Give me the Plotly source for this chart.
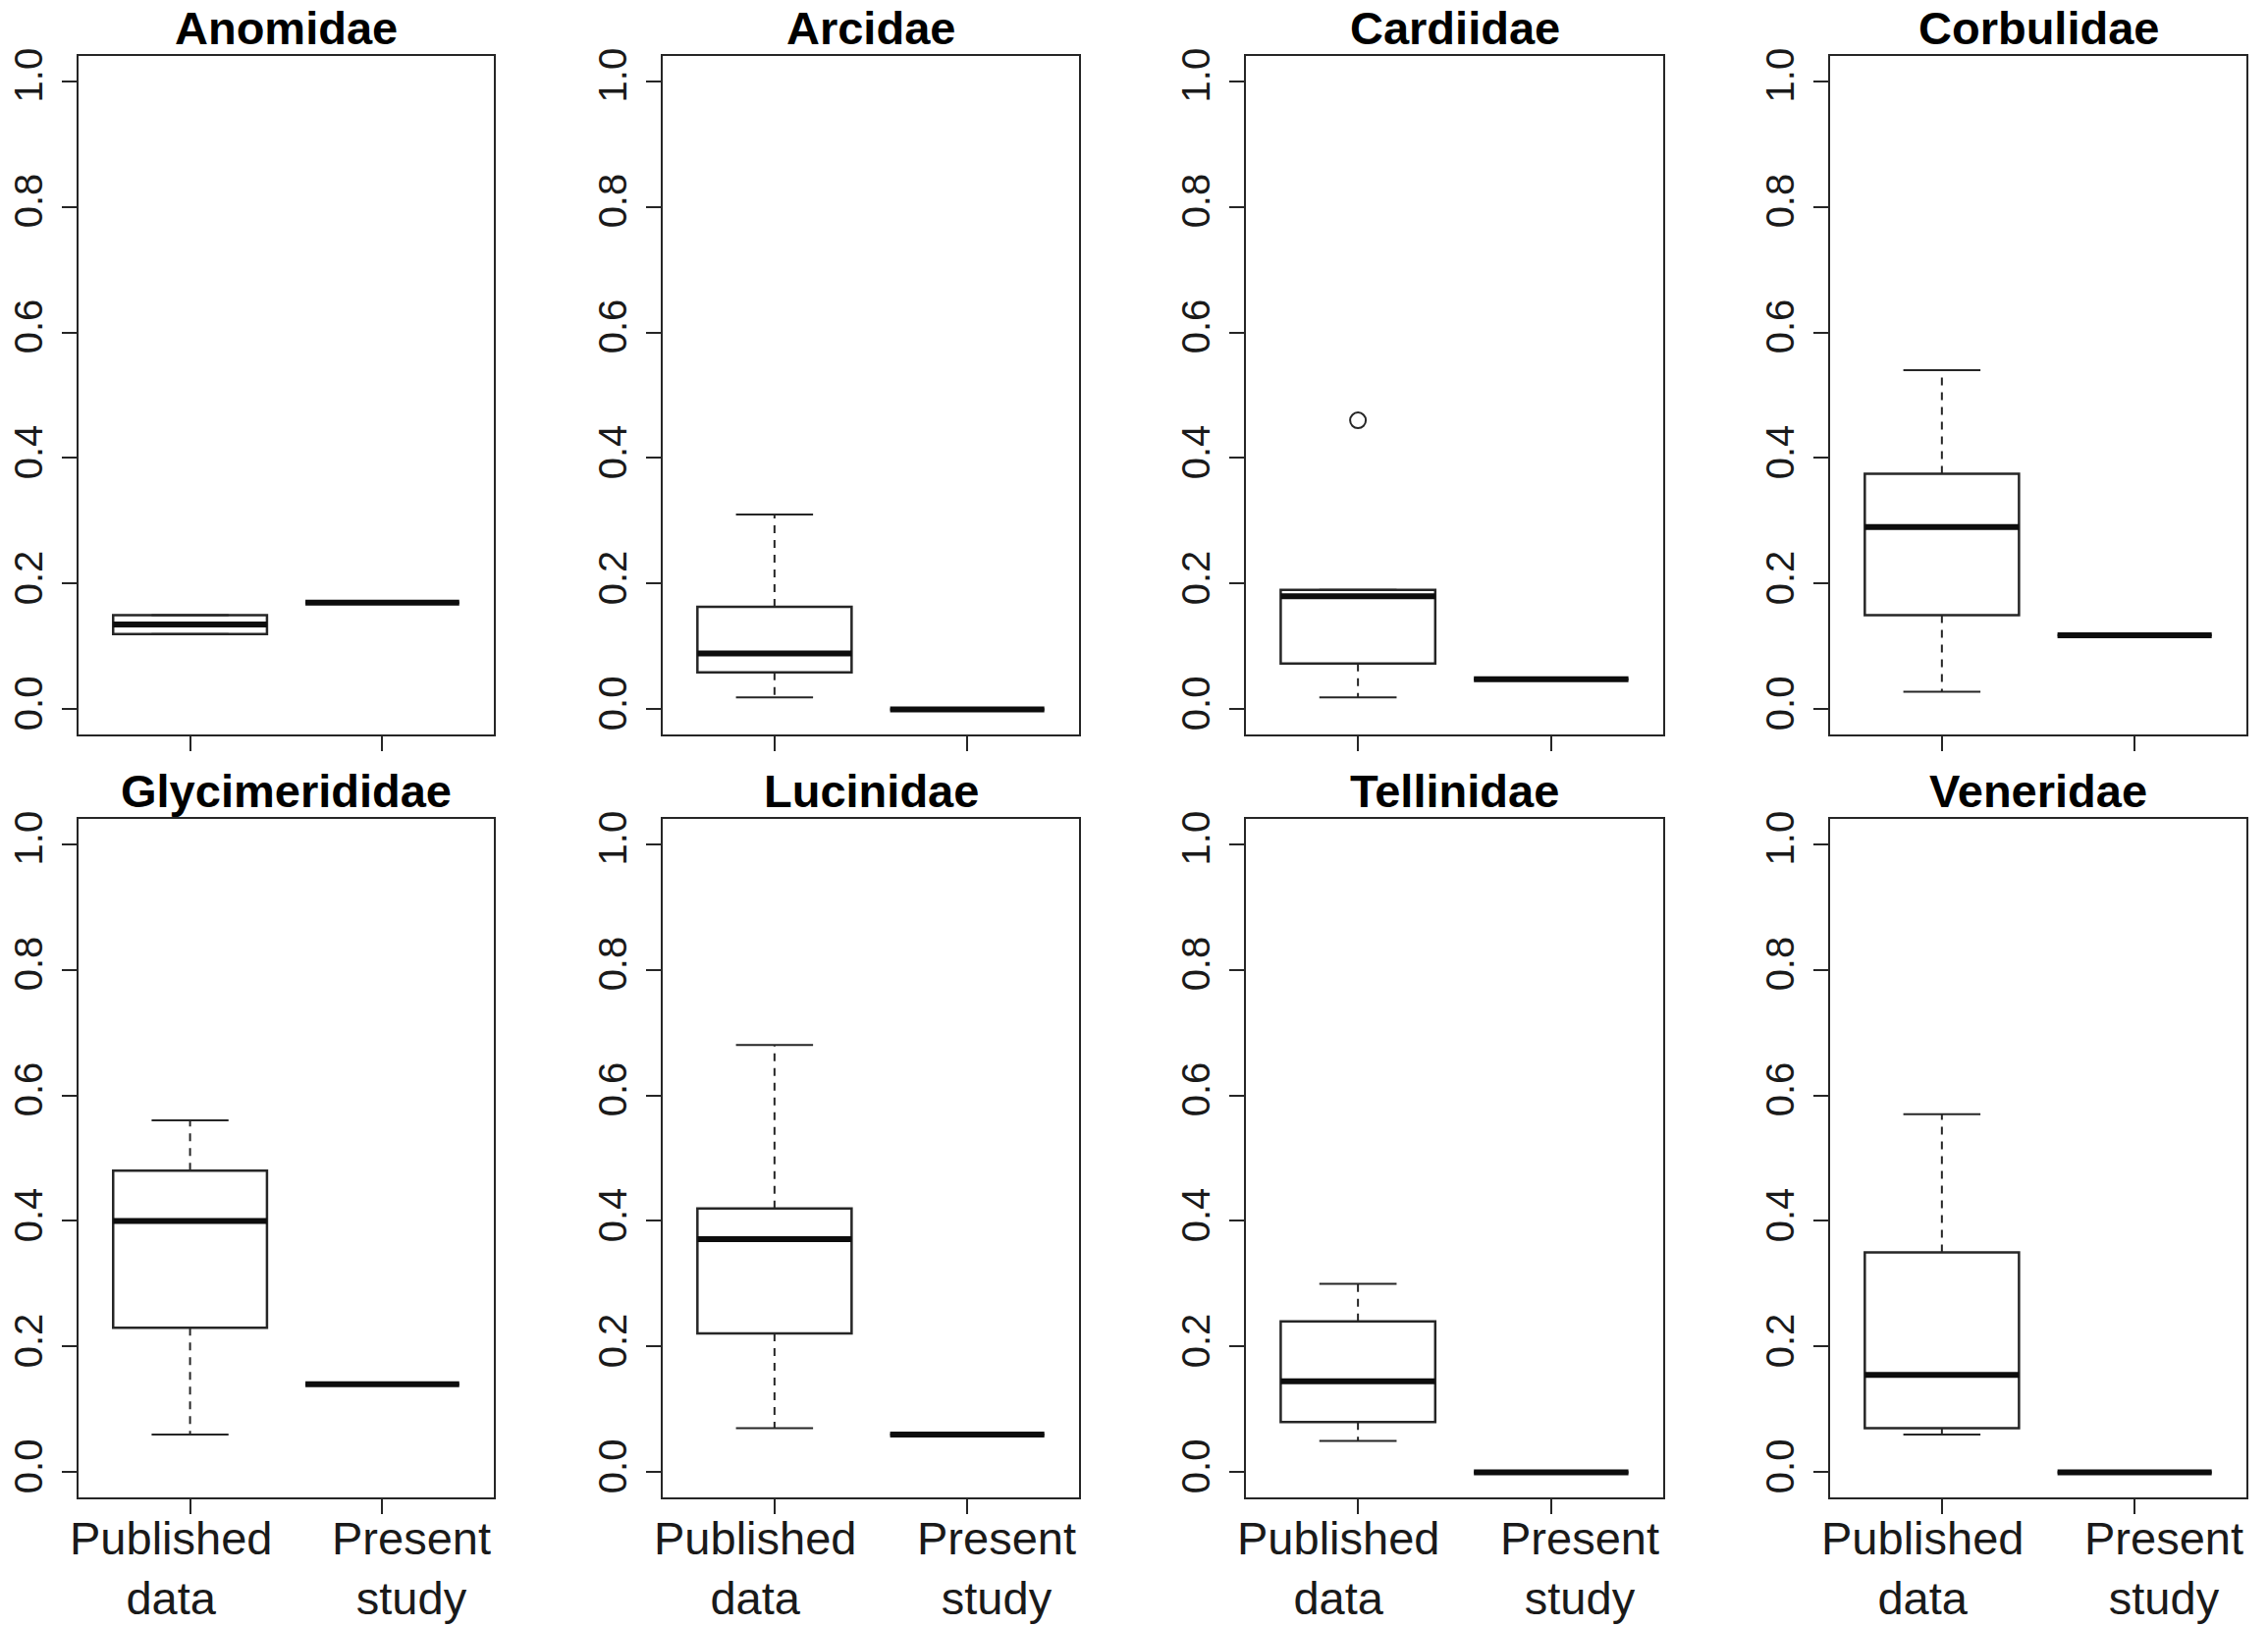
import plotly.graph_objects as go

# ---------------- data ----------------
families = ["Anomidae", "Arcidae", "Cardiidae", "Corbulidae",
            "Glycimerididae", "Lucinidae", "Tellinidae", "Veneridae"]
group_labels = ["Published<br>data", "Present<br>study"]

pub_min = [0.12, 0.019, 0.019, 0.028, 0.06, 0.07, 0.05, 0.06]
pub_q1 = [0.12, 0.059, 0.073, 0.15, 0.23, 0.221, 0.08, 0.07]
pub_med = [0.135, 0.089, 0.18, 0.29, 0.40, 0.371, 0.145, 0.155]
pub_q3 = [0.15, 0.163, 0.19, 0.375, 0.48, 0.42, 0.24, 0.35]
pub_max = [0.15, 0.31, 0.19, 0.54, 0.56, 0.68, 0.30, 0.57]
present_val = [0.17, 0.0, 0.048, 0.118, 0.14, 0.06, 0.0, 0.0]

outlier_family = ["Cardiidae"]
outlier_value = [0.46]

y_tick_vals = [0.0, 0.2, 0.4, 0.6, 0.8, 1.0]
y_tick_text = ["0.0", "0.2", "0.4", "0.6", "0.8", "1.0"]

# ---------------- style / layout constants ----------------
W, H = 2310, 1657
FONT = "Liberation Sans, Arial, Helvetica, sans-serif"
INK = "#1a1a1a"
LINE = "#262626"
BOX_W = 0.8
CAP_HALF = 0.2
MED_HALF = 0.4
positions = [1, 2]
label_pos = [0.9, 2.15]

cols_px = [(80, 503), (675, 1099), (1269, 1694), (1864, 2288)]
rows_px = [(57, 748), (834, 1525)]
title_y_px = [28, 805]
label_top_px = 1538


def fx(p):
    return p / W


def fy(p):
    return 1 - p / H


fig = go.Figure()
annotations = []

for i, fam in enumerate(families):
    r, c = divmod(i, 4)
    n = i + 1
    xa = "x" if n == 1 else f"x{n}"
    ya = "y" if n == 1 else f"y{n}"
    xkey = "xaxis" if n == 1 else f"xaxis{n}"
    ykey = "yaxis" if n == 1 else f"yaxis{n}"

    stats = [
        (pub_min[i], pub_q1[i], pub_med[i], pub_q3[i], pub_max[i]),
        (present_val[i],) * 5,
    ]
    for pos, (lo, q1, med, q3, hi) in zip(positions, stats):
        # box body
        fig.add_trace(go.Box(
            x=[pos], q1=[q1], median=[med], q3=[q3],
            lowerfence=[q1], upperfence=[q3],
            width=BOX_W, whiskerwidth=0, boxpoints=False,
            fillcolor="white", line=dict(color=LINE, width=2.5),
            xaxis=xa, yaxis=ya, showlegend=False, hoverinfo="skip"))
        # dashed whiskers
        fig.add_trace(go.Scatter(
            x=[pos, pos, None, pos, pos], y=[q3, hi, None, q1, lo],
            mode="lines", line=dict(color=LINE, width=2, dash="8px,7px"),
            xaxis=xa, yaxis=ya, showlegend=False, hoverinfo="skip"))
        # staples
        fig.add_trace(go.Scatter(
            x=[pos - CAP_HALF, pos + CAP_HALF, None, pos - CAP_HALF, pos + CAP_HALF],
            y=[hi, hi, None, lo, lo],
            mode="lines", line=dict(color=LINE, width=2),
            xaxis=xa, yaxis=ya, showlegend=False, hoverinfo="skip"))
        # thick median
        fig.add_trace(go.Scatter(
            x=[pos - MED_HALF, pos + MED_HALF], y=[med, med],
            mode="lines", line=dict(color="#0d0d0d", width=6),
            xaxis=xa, yaxis=ya, showlegend=False, hoverinfo="skip"))

    outs = [v for f, v in zip(outlier_family, outlier_value) if f == fam]
    if outs:
        fig.add_trace(go.Scatter(
            x=[positions[0]] * len(outs), y=outs, mode="markers",
            marker=dict(symbol="circle-open", size=16, color=LINE,
                        line=dict(width=2, color=LINE)),
            xaxis=xa, yaxis=ya, showlegend=False, hoverinfo="skip"))

    x0, x1 = cols_px[c]
    y0, y1 = rows_px[r]
    fig.update_layout(**{
        xkey: dict(domain=[fx(x0), fx(x1)], anchor=ya, range=[0.42, 2.58],
                   tickvals=positions, showticklabels=False, automargin=False,
                   ticks="outside", ticklen=15, tickwidth=2, tickcolor=LINE,
                   showline=True, mirror=True, linewidth=2, linecolor=LINE,
                   showgrid=False, zeroline=False, fixedrange=True),
        ykey: dict(domain=[fy(y1), fy(y0)], anchor=xa, range=[-0.04, 1.04],
                   tickvals=y_tick_vals, ticktext=y_tick_text, tickangle=-90,
                   automargin=False,
                   ticks="outside", ticklen=15, tickwidth=2, tickcolor=LINE,
                   ticklabelstandoff=4,
                   tickfont=dict(family=FONT, size=40, color=INK),
                   showline=True, mirror=True, linewidth=2, linecolor=LINE,
                   showgrid=False, zeroline=False, fixedrange=True),
    })

    annotations.append(dict(
        text=fam, xref="paper", yref="paper",
        x=fx((x0 + x1) / 2), y=fy(title_y_px[r]),
        xanchor="center", yanchor="middle", showarrow=False,
        font=dict(family=FONT, size=47, color="black", weight="bold")))

    if r == 1:
        for lp, lab in zip(label_pos, group_labels):
            annotations.append(dict(
                text=lab, xref=xa, yref="paper", x=lp, y=fy(label_top_px),
                xanchor="center", yanchor="top", showarrow=False,
                font=dict(family=FONT, size=47, color=INK)))

fig.update_layout(
    width=W, height=H,
    margin=dict(l=0, r=0, t=0, b=0, autoexpand=False),
    paper_bgcolor="white", plot_bgcolor="white",
    boxmode="overlay", showlegend=False,
    annotations=annotations,
)

fig.write_html("out.html")
